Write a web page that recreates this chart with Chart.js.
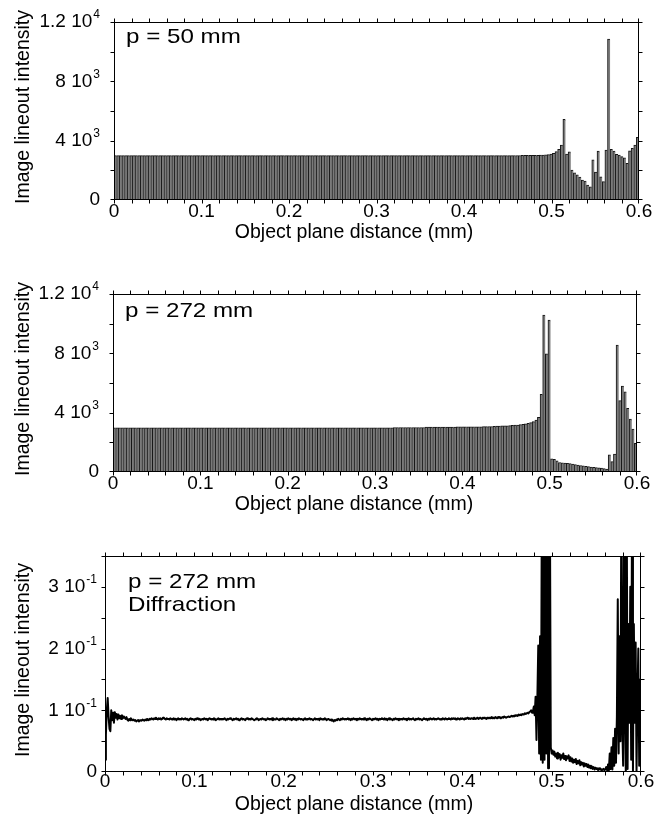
<!DOCTYPE html>
<html>
<head>
<meta charset="utf-8">
<title>Image lineout intensity</title>
<script src="https://cdn.jsdelivr.net/npm/chart.js@4.4.1/dist/chart.umd.min.js"></script>
<style>
  html, body { margin: 0; padding: 0; background: #fff; }
  #wrap { position: relative; width: 662px; height: 818px; }
  canvas { position: absolute; left: 0; }
</style>
</head>
<body>
<div id="wrap">
  <canvas id="panel1" width="662" height="272" style="top:0"></canvas>
  <canvas id="panel2" width="662" height="272" style="top:272px"></canvas>
  <canvas id="panel3" width="662" height="274" style="top:544px"></canvas>
</div>
<script>
// histogram bins are 0.003 mm wide, 200 bins from 0 to 0.6 mm
const binWidth = 0.003;

// p = 50 mm lineout (counts per bin)
const p50Values = [
  2990,2990,2990,2990,2990,2990,2990,2990,2990,2990,2990,2990,2990,2990,2990,2990,2990,2990,2990,2990,
  2990,2990,2990,2990,2990,2990,2990,2990,2990,2990,2990,2990,2990,2990,2990,2990,2990,2990,2990,2990,
  2990,2990,2990,2990,2990,2990,2990,2990,2990,2990,2990,2990,2990,2990,2990,2990,2990,2990,2990,2990,
  2990,2990,2990,2990,2990,2990,2990,2990,2990,2990,2990,2990,2990,2990,2990,2990,2990,2990,2990,2990,
  2990,2990,2990,2990,2990,2990,2990,2990,2990,2990,2990,2990,2990,2990,2990,2990,2990,2990,2990,2990,
  2990,2990,2990,2990,2990,2990,2990,2990,2990,2990,2990,2990,2990,2990,2990,2990,2990,2990,2990,2990,
  2990,2990,2990,2990,2990,2990,2990,2990,2990,2990,2990,2990,2990,2990,2990,2990,2990,2990,2990,2990,
  2990,2990,2990,2990,2990,2990,2990,2990,2990,2990,
  2995,2995,3000,3000,3000,3005,3005,3005,3010,3010,
  3010,3015,3020,3030,3040,3060,3090,3150,3260,3420,3710,
  5440,
  3100,3240,2020,1840,1700,1550,1350,1280,1010,880,
  2700,1890,3300,1570,1240,3370,10850,3420,3300,3080,
  3030,2920,2850,2470,3320,3480,3700,4230
];

// p = 272 mm lineout (counts per bin)
const p272Values = [
  2970,2970,2970,2970,2970,2970,2970,2970,2970,2970,2970,2970,2970,2970,2970,2970,2970,2970,2970,2970,
  2970,2970,2970,2970,2970,2970,2970,2970,2970,2970,2970,2970,2970,2970,2970,2970,2970,2970,2970,2970,
  2970,2970,2970,2970,2970,2970,2970,2970,2970,2970,2970,2970,2970,2970,2970,2970,2970,2970,2970,2970,
  2970,2970,2970,2970,2970,2970,2970,2970,2970,2970,2970,2970,2970,2970,2970,2970,2970,2970,2970,2970,
  2970,2970,2970,
  2975,2975,2975,2975,2975,2975,2975,2975,2975,2975,2975,2975,
  2985,2985,2985,2985,2985,2985,2985,2985,2985,2985,2985,2985,
  3000,3000,3000,3000,3000,3000,3000,3000,3000,3000,3000,3000,
  3020,3020,3020,3020,3020,3020,3020,3020,3020,3020,3020,3020,
  3040,3040,3040,3040,3040,3040,3040,3040,3040,
  3050,3055,3060,3065,3070,3080,3090,3100,3110,3115,
  3120,3130,3140,3155,3170,3190,3210,3240,3280,3330,3400,3500,3690,5240,
  10580,7960,10250,
  880,850,760,640,620,600,590,570,540,500,470,440,420,390,360,340,320,300,280,260,230,200,
  1150,700,1210,8560,4810,5800,5410,4290,3570,2900,1930
];

// diffraction lineout, one sample every 0.001 mm from 0 to 0.6 mm
const diffStep = 0.001;
const diffValues = [
  .020,.060,.100,.120,.090,.070,.066,.100,.084,.096,.080,.097,.088,.094,.085,.093,.087,.091,.086,.092,
  .087,.090,.088,.086,.089,.085,.083,.086,.084,.087,.085,
  .084,.085,.083,.084,.082,.083,.084,.082,.083,.084,.083,.085,.084,.083,.085,.084,.086,.085,.084,.086,
  .085,.087,.086,.085,.087,.086,.088,.086,.085,.087,.086,.087,.085,.086,.088,.087,.086,.085,.087,.086,
  .086,.085,.087,.086,.085,.086,.087,.085,.086,.084,.086,.087,.085,.086,.085,.087,.086,.085,.086,.087,
  .085,.086,.084,.085,.086,.087,.085,.086,.085,.084,.086,.085,.087,.086,.085,.086,.084,.085,.086,.085,
  .087,.086,.085,.086,.084,.086,.087,.086,.085,.086,.085,.087,.086,.084,.085,.086,.087,.085,.086,.085,
  .086,.085,.086,.087,.085,.084,.086,.085,.086,.087,.086,.085,.084,.086,.085,.086,.087,.085,.086,.084,
  .085,.086,.087,.085,.086,.085,.084,.086,.087,.086,.085,.086,.085,.087,.086,.085,.084,.085,.086,.087,
  .086,.084,.085,.086,.085,.087,.086,.085,.086,.084,.085,.087,.086,.085,.086,.085,.087,.084,.086,.085,
  .085,.087,.086,.085,.084,.086,.085,.086,.087,.085,.086,.084,.086,.085,.087,.086,.085,.086,.084,.086,
  .087,.085,.086,.084,.086,.085,.087,.086,.085,.086,.085,.084,.086,.087,.085,.086,.085,.086,.087,.085,
  .086,.085,.084,.086,.087,.085,.086,.085,.086,.084,.087,.086,.085,.086,.085,.087,.086,.084,.085,.086,
  .085,.084,.085,.083,.084,.082,.084,.083,.085,.084,.086,.085,.084,.086,.085,.087,.086,.085,.086,.085,
  .086,.087,.085,.086,.084,.086,.085,.087,.086,.085,.086,.084,.086,.085,.087,.086,.085,.086,.085,.087,
  .085,.086,.084,.086,.085,.087,.086,.085,.084,.086,.085,.086,.087,.085,.086,.084,.086,.085,.086,.087,
  .086,.085,.087,.085,.086,.084,.086,.087,.085,.086,.085,.084,.086,.085,.087,.086,.085,.086,.084,.086,
  .085,.086,.085,.087,.086,.085,.086,.084,.086,.087,.085,.086,.085,.086,.087,.085,.084,.086,.085,.086,
  .087,.085,.086,.085,.084,.086,.087,.086,.085,.086,.084,.086,.085,.087,.086,.085,.086,.087,.085,.086,
  .085,.086,.087,.086,.085,.086,.085,.087,.086,.085,.087,.086,.085,.086,.087,.086,.085,.087,.086,.087,
  .086,.087,.085,.086,.087,.086,.085,.087,.086,.087,.086,.085,.087,.086,.087,.088,.086,.087,.086,.087,
  .087,.086,.088,.087,.086,.087,.088,.086,.087,.088,.087,.086,.088,.087,.088,.087,.086,.088,.087,.088,
  .087,.088,.089,.087,.088,.087,.089,.088,.087,.089,.088,.089,.087,.088,.089,.088,.090,.089,.088,.089,
  .089,.090,.089,.090,.091,.090,.091,.090,.092,.091,.092,.091,.093,.092,.093,.092,.094,.093,.094,.095,
  .094,.095,.096,.095,.097,.098,.100,
  .096,.098,.106,.092,.122,.052,.120,.205,.030,.220,.020,.450,.015,.450,.020,.450,.030,.450,.006,.450,
  .450,.040,.030,
  .035,.028,.033,.025,.030,.022,.031,.024,.029,.020,.027,.023,.030,.021,.026,.019,.025,.022,.027,.018,
  .024,.017,.022,.015,.020,.016,.021,.013,.018,.014,.019,.011,.016,.012,.015,.009,.014,.010,.013,.008,
  .012,.007,.010,.006,.009,.005,.008,.004,.007,.005,.006,.003,.006,.004,.005,.002,.004,.005,.003,.004,
  .008,.003,.012,.002,.030,.005,.040,.004,.055,.010,.070,.015,.090,.280,.030,.220,.050,.450,.080,.010,
  .450,.100,.000,.450,.005,.240,.080,.300,.020,.450,.000,.240,.080,.210,.000,.120,.200,.010,.150,.020
];

// axis ticks and labels
const xTickValues = [0, 0.1, 0.2, 0.3, 0.4, 0.5, 0.6];
const xTickLabels = ['0', '0.1', '0.2', '0.3', '0.4', '0.5', '0.6'];
const barYTickValues = [0, 4000, 8000, 12000];
const barYTickBase = ['0', '4 10', '8 10', '1.2 10'];
const barYTickExp = ['', '3', '3', '4'];
const diffYTickValues = [0, 0.1, 0.2, 0.3];
const diffYTickBase = ['0', '1 10', '2 10', '3 10'];
const diffYTickExp = ['', '-1', '-1', '-1'];

const FONT = '"Liberation Sans", Arial, Helvetica, sans-serif';
const yTitle = 'Image lineout intensity';
const xTitle = 'Object plane distance (mm)';

// frame, outward ticks on all four sides, labels and notes
const decorPlugin = {
    id: 'decor',
    afterDraw(chart, args, o) {
        const { ctx, chartArea: a } = chart;
        const xs = chart.scales.x, ys = chart.scales.y;
        const L = a.left + 0.5, R = a.right - 0.5, T = a.top + 0.5, B = a.bottom - 0.5;
        ctx.save();
        ctx.strokeStyle = '#000';
        ctx.lineWidth = 1;
        ctx.strokeRect(L, T, R - L, B - T);

        ctx.beginPath();
        const nx = Math.round(o.xMax / o.xMinor);
        for (let k = 0; k <= nx; k++) {
            let px = Math.round(xs.getPixelForValue(k * o.xMinor)) + 0.5;
            px = Math.min(Math.max(px, L), R);
            ctx.moveTo(px, B); ctx.lineTo(px, B + 4);
            ctx.moveTo(px, T); ctx.lineTo(px, T - 4);
        }
        const ny = Math.round(o.yMax / o.yMinor);
        for (let k = 0; k <= ny; k++) {
            let py = Math.round(ys.getPixelForValue(k * o.yMinor)) + 0.5;
            py = Math.min(Math.max(py, T), B);
            ctx.moveTo(L, py); ctx.lineTo(L - 4, py);
            ctx.moveTo(R, py); ctx.lineTo(R + 4, py);
        }
        ctx.stroke();

        ctx.fillStyle = '#000';
        ctx.font = `19px ${FONT}`;
        ctx.textAlign = 'center';
        ctx.textBaseline = 'middle';
        xTickValues.forEach((v, k) => {
            ctx.fillText(xTickLabels[k], xs.getPixelForValue(v), a.bottom + o.xLabelDy);
        });

        const right = a.left - o.yGap;
        o.yTicks.forEach((v, k) => {
            const py = ys.getPixelForValue(v);
            const exp = o.yExp[k];
            ctx.textAlign = 'right';
            ctx.font = `12px ${FONT}`;
            const ew = exp ? ctx.measureText(exp).width + 1 : 0;
            if (exp) ctx.fillText(exp, right, py - 7);
            ctx.font = `19px ${FONT}`;
            ctx.fillText(o.yBase[k], right - ew, py);
        });

        ctx.font = `19.5px ${FONT}`;
        ctx.textAlign = 'center';
        ctx.fillText(xTitle, 354, a.bottom + 33);
        ctx.save();
        ctx.translate(24, (a.top + a.bottom) / 2 - 4);
        ctx.rotate(-Math.PI / 2);
        ctx.fillText(yTitle, 0, 0);
        ctx.restore();

        ctx.textAlign = 'left';
        ctx.textBaseline = 'alphabetic';
        ctx.font = `21px ${FONT}`;
        o.notes.forEach(n => {
            ctx.save();
            ctx.translate(n.x, n.y);
            ctx.scale(1.15, 1);
            ctx.fillText(n.text, 0, 0);
            ctx.restore();
        });
        ctx.restore();
    }
};

const makeBars = (id, values, padding, notes) => new Chart(document.getElementById(id), {
    type: 'bar',
    data: {
        datasets: [{
            data: values.map((v, i) => ({ x: (i + 0.5) * binWidth, y: v })),
            backgroundColor: '#7a7a7a',
            borderColor: '#151515',
            borderWidth: { left: 1, top: 1, right: 0, bottom: 0 },
            borderSkipped: false,
            barPercentage: 1,
            categoryPercentage: 1
        }]
    },
    options: {
        responsive: false,
        animation: false,
        events: [],
        layout: { padding },
        plugins: {
            legend: { display: false },
            tooltip: { enabled: false },
            decor: {
                xMax: 0.6, xMinor: 0.02, yMax: 12000, yMinor: 2000,
                yTicks: barYTickValues, yBase: barYTickBase, yExp: barYTickExp,
                yGap: 14, xLabelDy: 12, notes
            }
        },
        scales: {
            x: { type: 'linear', min: 0, max: 0.6, offset: false, display: false },
            y: { type: 'linear', min: 0, max: 12000, display: false }
        }
    },
    plugins: [decorPlugin]
});

makeBars('panel1', p50Values, { left: 114, top: 22, right: 23, bottom: 72 },
    [{ text: 'p = 50 mm', x: 126, y: 43 }]);
makeBars('panel2', p272Values, { left: 113, top: 22, right: 25, bottom: 72 },
    [{ text: 'p = 272 mm', x: 125, y: 45 }]);

new Chart(document.getElementById('panel3'), {
    type: 'line',
    data: {
        datasets: [{
            data: diffValues.map((v, i) => ({ x: i * diffStep, y: v })),
            borderColor: '#000',
            borderWidth: 2,
            borderJoinStyle: 'round',
            pointRadius: 0,
            tension: 0,
            fill: false
        }]
    },
    options: {
        responsive: false,
        animation: false,
        events: [],
        layout: { padding: { left: 105, top: 12, right: 21, bottom: 46 } },
        plugins: {
            legend: { display: false },
            tooltip: { enabled: false },
            decor: {
                xMax: 0.6, xMinor: 0.02, yMax: 0.35, yMinor: 0.05,
                yTicks: diffYTickValues, yBase: diffYTickBase, yExp: diffYTickExp,
                yGap: 8, xLabelDy: 10,
                notes: [{ text: 'p = 272 mm', x: 128, y: 44 }, { text: 'Diffraction', x: 128, y: 67 }]
            }
        },
        scales: {
            x: { type: 'linear', min: 0, max: 0.6, display: false },
            y: { type: 'linear', min: 0, max: 0.35, display: false }
        }
    },
    plugins: [decorPlugin]
});
</script>
</body>
</html>
